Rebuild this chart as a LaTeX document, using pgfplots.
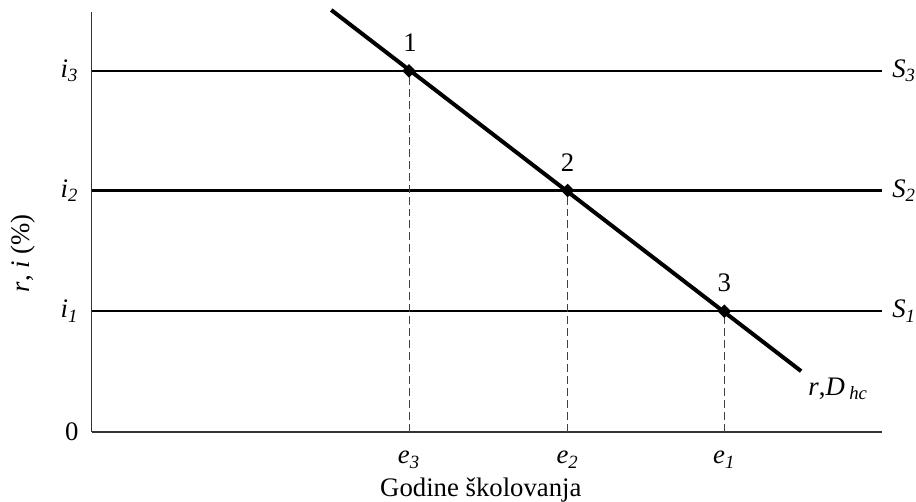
\documentclass[border=0pt]{standalone}
\usepackage{fontspec}
\setmainfont{Liberation Serif}
\usepackage{pgfplots}
\pgfplotsset{compat=1.18}
\begin{document}
\fontsize{13.4}{16}\selectfont
\begin{tikzpicture}
\begin{axis}[
  x=0.5pt, y=0.5pt,
  xmin=92, xmax=884, ymin=0, ymax=421,
  axis lines*=left,
  axis line style={line width=0.7pt, black!80},
  clip=false,
  xtick={410,569,726},
  xticklabels={\textit{e}\textsubscript{\textit{3}},\textit{e}\textsubscript{\textit{2}},\textit{e}\textsubscript{\textit{1}}},
  ytick={0,121,242,362},
  yticklabels={0,\textit{i}\textsubscript{\textit{1}},\textit{i}\textsubscript{\textit{2}},\textit{i}\textsubscript{\textit{3}}},
  major tick length=0pt,
  xticklabel style={yshift=-5pt},
  yticklabel style={xshift=-2pt},
  tick label style={font=\fontsize{13.4}{16}\selectfont},
]
% invisible frame matching the reference canvas
\draw[draw=none] (axis cs:0,-70) rectangle (axis cs:916,433);
% supply lines
\addplot[black, line width=1.1pt] coordinates {(92,362) (884,362)};
\addplot[black, line width=1.1pt] coordinates {(92,242) (884,242)};
\addplot[black, line width=1.1pt] coordinates {(92,121) (884,121)};
% dashed verticals
\addplot[black!75, line width=0.5pt, dash pattern=on 4pt off 2pt] coordinates {(410,0) (410,362)};
\addplot[black!75, line width=0.5pt, dash pattern=on 4pt off 2pt] coordinates {(569,0) (569,242)};
\addplot[black!75, line width=0.5pt, dash pattern=on 4pt off 2pt] coordinates {(726,0) (726,121)};
% demand line
\addplot[black, line width=2pt] coordinates {(332,423) (803,61)};
% intersection points
\addplot[only marks, mark=square*, mark size=2.2pt, mark options={rotate=45}, black] coordinates {(410,362) (569,242) (726,121)};
% labels
\node[anchor=south] at (axis cs:411,372) {1};
\node[anchor=south] at (axis cs:569,252) {2};
\node[anchor=south] at (axis cs:726,131) {3};
\node[anchor=west, inner sep=0pt] at (axis cs:894,362) {\textit{S}\textsubscript{\textit{3}}};
\node[anchor=west, inner sep=0pt] at (axis cs:894,242) {\textit{S}\textsubscript{\textit{2}}};
\node[anchor=west, inner sep=0pt] at (axis cs:894,121) {\textit{S}\textsubscript{\textit{1}}};
\node[anchor=west, inner sep=0pt] at (axis cs:810,43) {\textit{r},\textit{D}\,\textsubscript{\textit{hc}}};
\node[rotate=90, inner sep=0pt] at (axis cs:23,179) {\textit{r}, \textit{i} (\%)};
\node[inner sep=0pt] at (axis cs:482,-58) {Godine školovanja};
\end{axis}
\end{tikzpicture}
\end{document}
